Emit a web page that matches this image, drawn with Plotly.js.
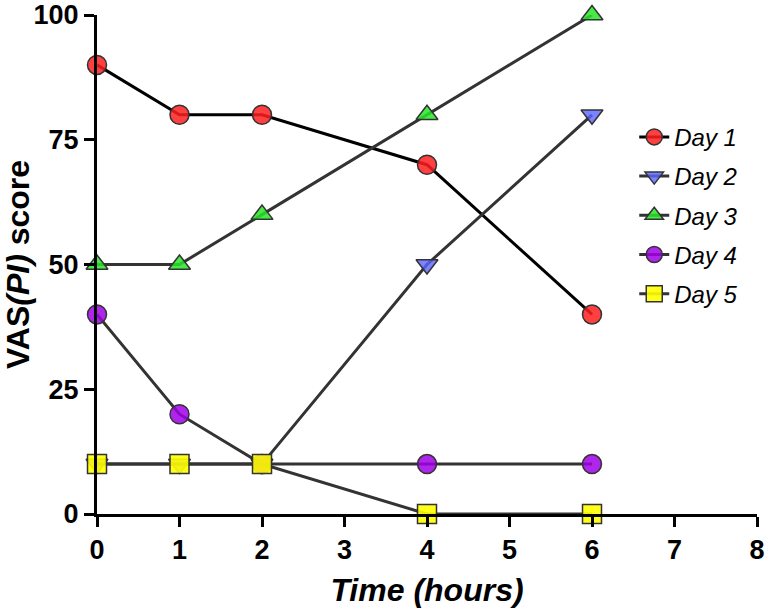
<!DOCTYPE html>
<html>
<head>
<meta charset="utf-8">
<script src="https://cdn.plot.ly/plotly-3.0.1.min.js"></script>
<style>
  html, body { margin: 0; padding: 0; background: #fff; }
  #chart { width: 772px; height: 611px; }
</style>
</head>
<body>
<div id="chart"></div>
<script>
var hours = [0, 1, 2, 4, 6];
var day1 = [90, 80, 80, 70, 40];
var day2 = [10, 10, 10, 50, 80];
var day3 = [50, 50, 60, 80, 100];
var day4 = [40, 20, 10, 10, 10];
var day5 = [10, 10, 10, 0, 0];
var xTicks = [0, 1, 2, 3, 4, 5, 6, 7, 8];
var yTicks = [0, 25, 50, 75, 100];

function series(name, y, symbol, fill, lineColor) {
  return {
    x: hours,
    y: y,
    name: name,
    legendgroup: name,
    type: 'scatter',
    mode: 'lines+markers',
    cliponaxis: false,
    line: {color: lineColor, width: 3},
    marker: {
      symbol: symbol,
      size: 19,
      color: fill,
      line: {color: '#333333', width: 1.5}
    }
  };
}

var data = [
  series('Day 1', day1, 'circle', 'rgba(255,30,30,0.85)', '#000000'),
  series('Day 2', day2, 'triangle-down', 'rgba(90,100,255,0.8)', '#333333'),
  series('Day 3', day3, 'triangle-up', 'rgba(40,230,40,0.85)', '#333333'),
  series('Day 4', day4, 'circle', 'rgba(160,0,230,0.85)', '#333333'),
  series('Day 5', day5, 'square', 'rgba(255,255,0,0.9)', '#333333')
];

var fam = 'Liberation Sans, Arial, sans-serif';

var layout = {
  width: 772,
  height: 611,
  margin: {l: 97, r: 15, t: 15, b: 97},
  paper_bgcolor: '#fff',
  plot_bgcolor: '#fff',
  font: {family: fam, color: '#000'},
  showlegend: true,
  legend: {
    x: 0.814, y: 0.80, xanchor: 'left', yanchor: 'top',
    font: {family: fam, size: 24, style: 'italic', color: '#000'},
    bgcolor: 'rgba(0,0,0,0)',
    traceorder: 'grouped',
    tracegroupgap: 5
  },
  xaxis: {
    range: [0, 8],
    tickvals: xTicks,
    ticktext: xTicks.map(String),
    showgrid: false,
    zeroline: false,
    showline: true,
    linecolor: '#000',
    linewidth: 3,
    ticks: 'outside',
    ticklen: 10,
    tickwidth: 3,
    tickcolor: '#000',
    ticklabeloverflow: 'allow',
    tickfont: {family: fam, size: 27, weight: 'bold', color: '#000'},
    title: {
      text: 'Time (hours)',
      font: {family: fam, size: 32, weight: 'bold', style: 'italic', color: '#000'},
      standoff: 15
    }
  },
  yaxis: {
    range: [0, 100],
    tickvals: yTicks,
    ticktext: yTicks.map(String),
    showgrid: false,
    zeroline: false,
    showline: true,
    linecolor: '#000',
    linewidth: 3,
    ticks: 'outside',
    ticklen: 10,
    tickwidth: 3,
    tickcolor: '#000',
    ticklabeloverflow: 'allow',
    tickfont: {family: fam, size: 27, weight: 'bold', color: '#000'},
    title: {
      text: 'VAS<i>(PI)</i> score',
      font: {family: fam, size: 32, weight: 'bold', color: '#000'},
      standoff: 1
    }
  }
};

Plotly.newPlot('chart', data, layout, {displayModeBar: false, staticPlot: true});
</script>
</body>
</html>
